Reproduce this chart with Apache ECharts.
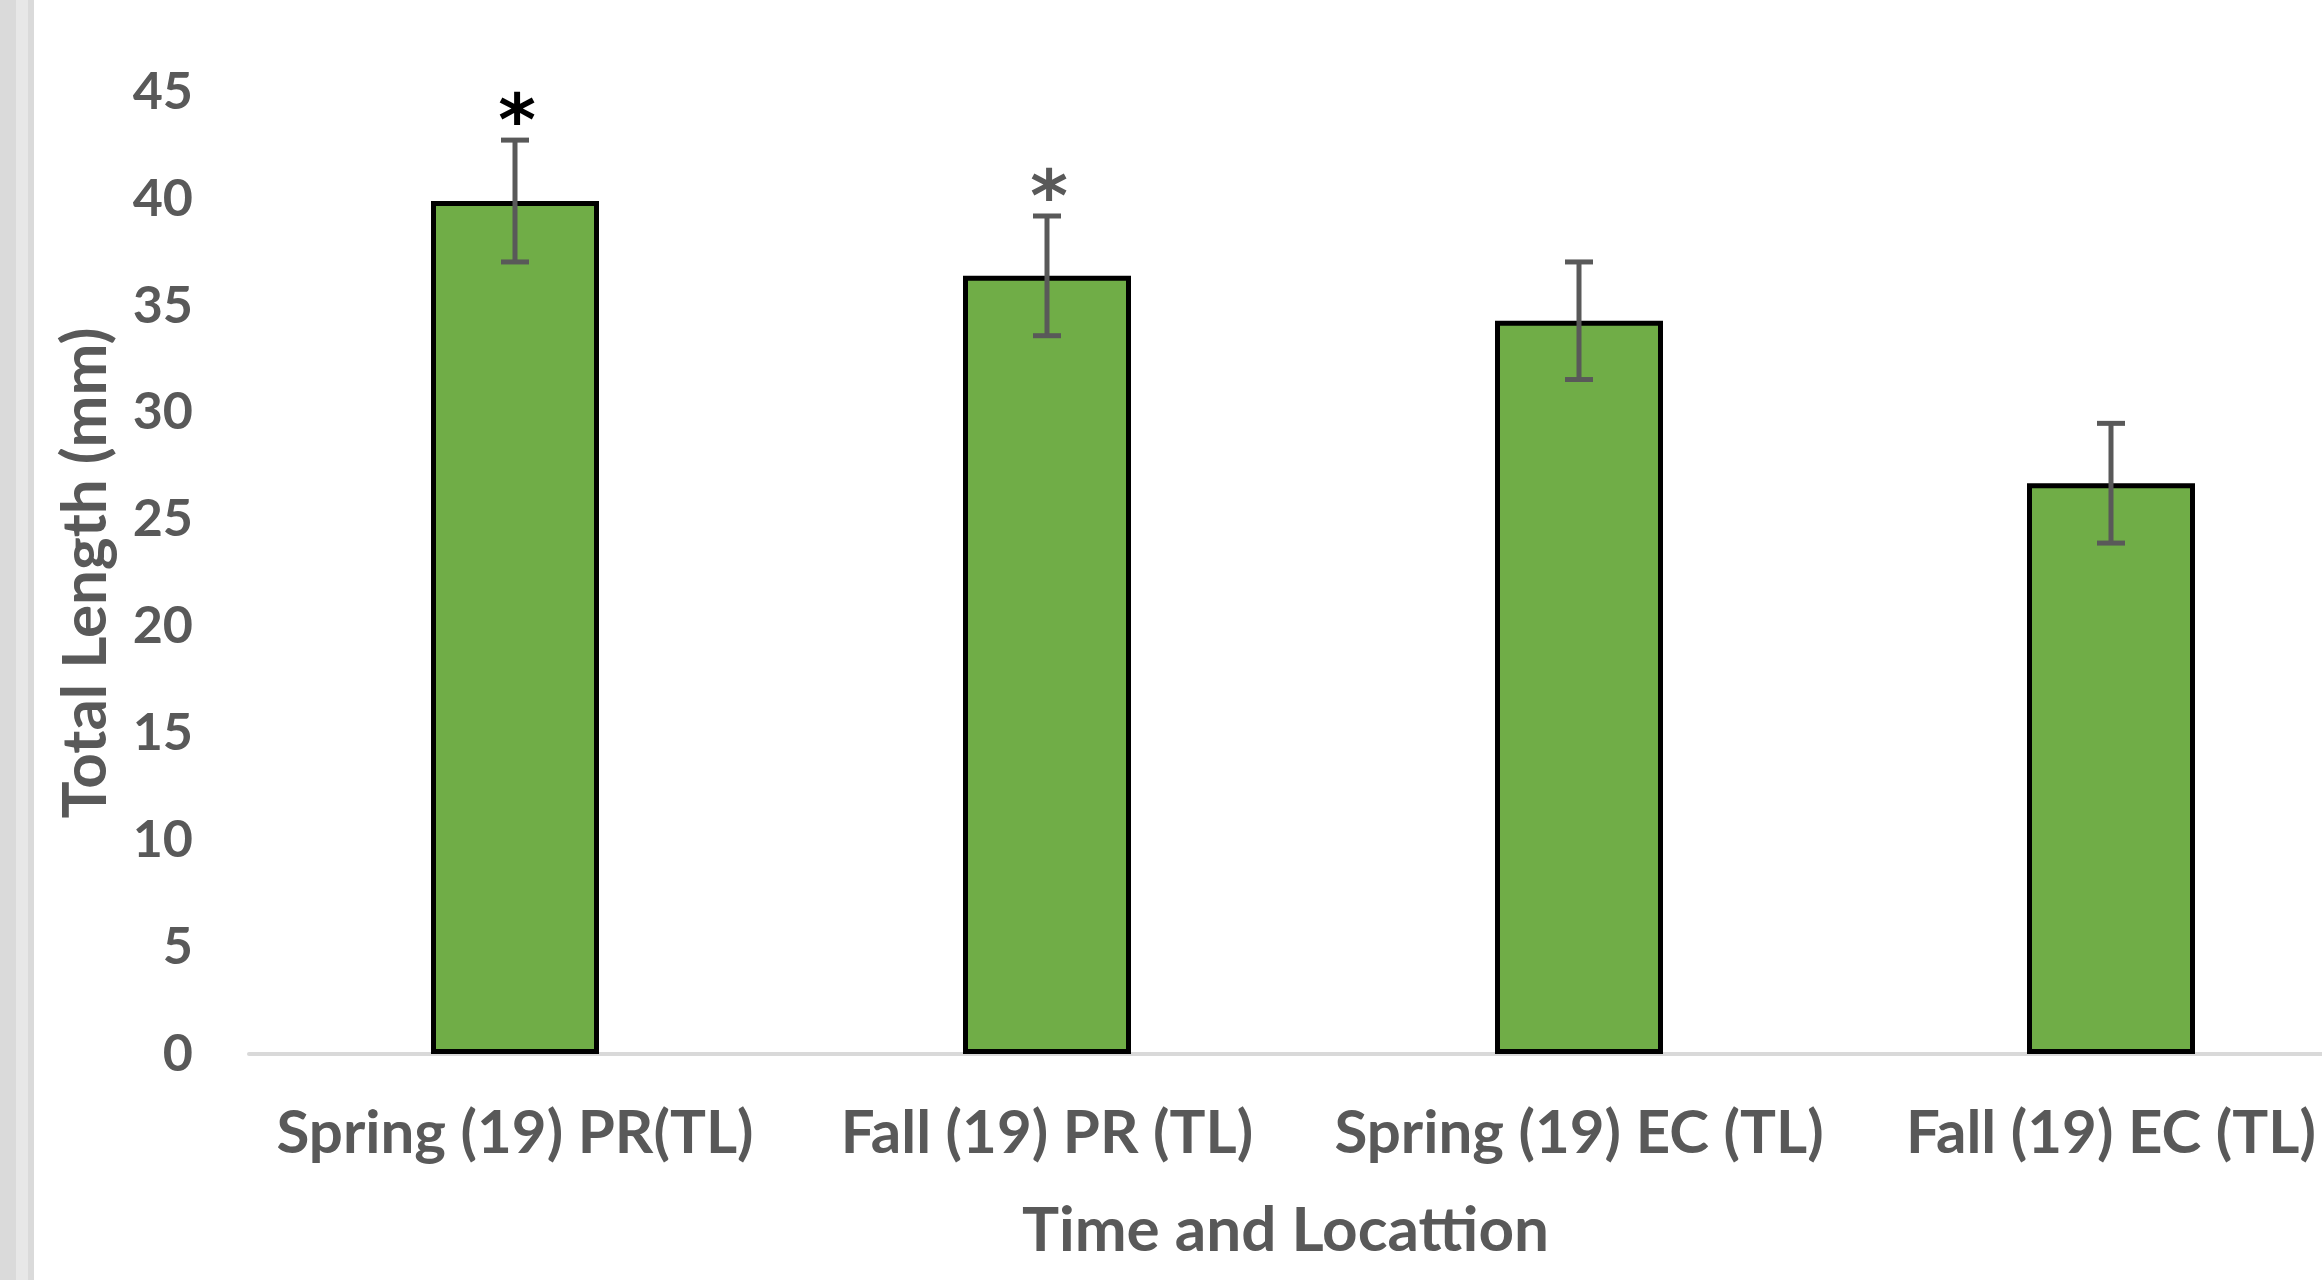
<!DOCTYPE html>
<html>
<head>
<meta charset="utf-8">
<script src="https://cdn.jsdelivr.net/npm/echarts@6/dist/echarts.min.js"></script>
<style>
  html, body { margin: 0; padding: 0; background: #ffffff; overflow: hidden; }
  #chart { width: 2322px; height: 1280px; }
</style>
</head>
<body>
<div id="chart"></div>
<script>
// Mean total length per sampling group, with standard error
const categories = ['Spring (19) PR(TL)', 'Fall (19) PR (TL)', 'Spring (19) EC (TL)', 'Fall (19) EC (TL)'];
const meanLength = [39.9, 36.4, 34.3, 26.7];
const errorLength = [2.85, 2.8, 2.75, 2.8];
const significance = ['*', '*', '', ''];
const yTicks = { min: 0, max: 45, step: 5 };

const textGray = '#595959';
const labelFont = 'Lato, "Open Sans", sans-serif';
// marker colours for the significance asterisks, by bar
const starColors = ['#000000', '#595959', '#595959', '#595959'];

// Category slots are placed on a numeric axis: slot i is centred on i.
// The visible plot shows a little less than four full slots (the last one is cut by the right edge).
const gridLeft = 249;
const slotPx = 532;
const chartWidth = 2322;
const xMin = -0.5;
const xMax = xMin + (chartWidth - gridLeft) / slotPx;

const barData = meanLength.map((m, i) => [i, m]);
const errorData = meanLength.map((m, i) => [i, m - errorLength[i], m + errorLength[i], significance[i]]);

const chart = echarts.init(document.getElementById('chart'), null, { renderer: 'canvas' });

chart.setOption({
  backgroundColor: '#ffffff',
  animation: false,
  graphic: [
    { type: 'rect', shape: { x: 0, y: 0, width: 16, height: 1280 }, style: { fill: '#dadada' }, silent: true },
    { type: 'rect', shape: { x: 16, y: 0, width: 12, height: 1280 }, style: { fill: '#e7e7e7' }, silent: true },
    { type: 'rect', shape: { x: 28, y: 0, width: 6, height: 1280 }, style: { fill: '#dadada' }, silent: true }
  ],
  grid: { left: gridLeft, top: 92, right: 0, bottom: 226, containLabel: false },
  xAxis: {
    type: 'value',
    min: xMin,
    max: xMax,
    name: 'Time and Locattion',
    nameLocation: 'middle',
    nameGap: 146,
    nameTextStyle: { color: textGray, fontFamily: labelFont, fontWeight: 'bold', fontSize: 62 },
    axisLine: { show: true, onZero: false, lineStyle: { color: '#d9d9d9', width: 4 } },
    axisTick: { show: false },
    axisLabel: {
      color: textGray, fontFamily: labelFont, fontWeight: 'bold', fontSize: 60, margin: 50,
      customValues: categories.map((c, i) => i),
      formatter: function (v) { return categories[Math.round(v)] || ''; },
      showMinLabel: true, showMaxLabel: true, hideOverlap: false
    },
    splitLine: { show: false }
  },
  yAxis: {
    type: 'value',
    min: yTicks.min,
    max: yTicks.max,
    interval: yTicks.step,
    name: 'Total Length (mm)',
    nameLocation: 'middle',
    nameGap: 132,
    nameTextStyle: { color: textGray, fontFamily: labelFont, fontWeight: 'bold', fontSize: 62 },
    axisLine: { show: false },
    axisTick: { show: false },
    axisLabel: { color: textGray, fontFamily: labelFont, fontWeight: 'bold', fontSize: 52, margin: 56 },
    splitLine: { show: false }
  },
  series: [
    {
      type: 'bar',
      data: barData,
      barWidth: 168,
      itemStyle: { color: '#70ad47', borderColor: '#000000', borderWidth: 5 },
      z: 2
    },
    {
      type: 'custom',
      data: errorData,
      z: 3,
      renderItem: function (params, api) {
        const i = api.value(0);
        const lo = api.coord([i, api.value(1)]);
        const hi = api.coord([i, api.value(2)]);
        const x = lo[0];
        const cap = 14;
        const line = { stroke: '#595959', lineWidth: 5 };
        const children = [
          { type: 'line', shape: { x1: x, y1: hi[1], x2: x, y2: lo[1] }, style: line },
          { type: 'line', shape: { x1: x - cap, y1: hi[1], x2: x + cap, y2: hi[1] }, style: line },
          { type: 'line', shape: { x1: x - cap, y1: lo[1], x2: x + cap, y2: lo[1] }, style: line }
        ];
        const mark = api.value(3);
        if (mark) {
          children.push({
            type: 'text',
            style: {
              text: mark,
              x: x + 2,
              y: hi[1] + 22,
              align: 'center',
              verticalAlign: 'bottom',
              fill: starColors[params.dataIndex],
              font: 'bold 72px "DejaVu Sans", sans-serif'
            }
          });
        }
        return { type: 'group', children: children };
      }
    }
  ]
});
</script>
</body>
</html>
